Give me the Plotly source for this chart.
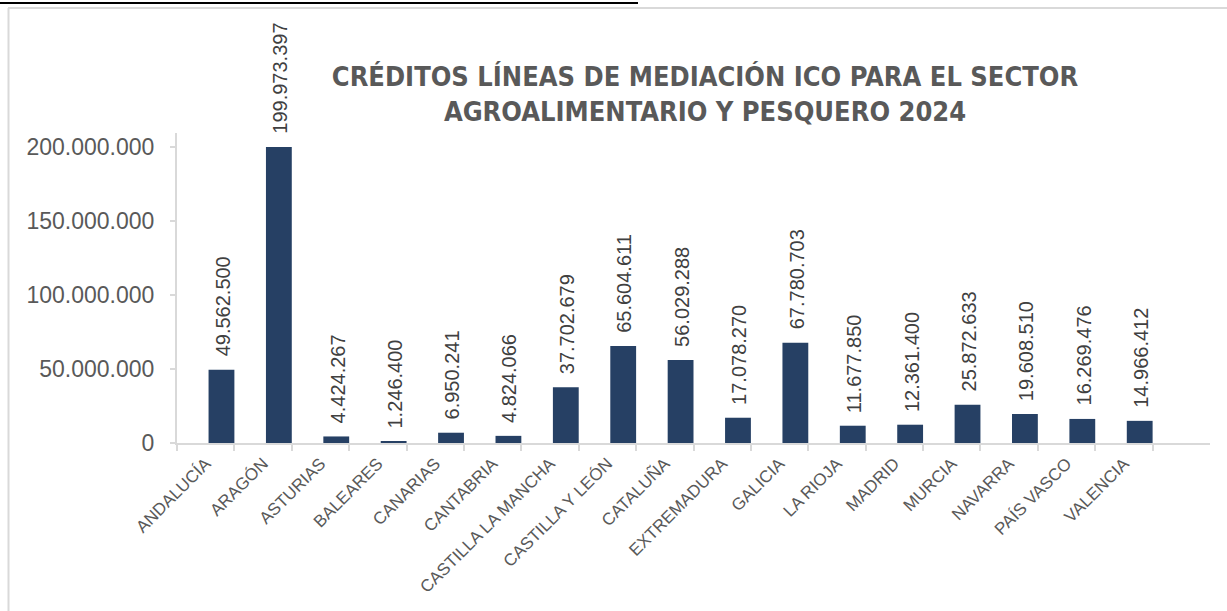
import plotly.graph_objects as go

# ---- data ----
regions = ["ANDALUCÍA", "ARAGÓN", "ASTURIAS", "BALEARES", "CANARIAS", "CANTABRIA",
           "CASTILLA LA MANCHA", "CASTILLA Y LEÓN", "CATALUÑA", "EXTREMADURA",
           "GALICIA", "LA RIOJA", "MADRID", "MURCIA", "NAVARRA", "PAÍS VASCO", "VALENCIA"]
credits = [49562500, 199973397, 4424267, 1246400, 6950241, 4824066,
           37702679, 65604611, 56029288, 17078270, 67780703, 11677850,
           12361400, 25872633, 19608510, 16269476, 14966412]
y_ticks = [0, 50000000, 100000000, 150000000, 200000000]
title_text = "CRÉDITOS LÍNEAS DE MEDIACIÓN ICO PARA EL SECTOR<br>AGROALIMENTARIO Y PESQUERO 2024"

W, H = 1227, 611
ML, MR, MT, MB = 177, 17, 133, 168
PW, PH = W - ML - MR, H - MT - MB


def px_x(p):
    return (p - ML) / PW


def px_y(p):
    return (H - MB - p) / PH


def fmt(v):
    return f"{v:,}".replace(",", ".")


fig = go.Figure()
fig.add_trace(go.Bar(
    x=regions, y=credits,
    width=0.45, offset=0.05,
    marker=dict(color="#264064", line=dict(width=0)),
    hoverinfo="x+y",
))

for r, v in zip(regions, credits):
    fig.add_annotation(
        x=r, y=v, xref="x", yref="y",
        text=fmt(v), showarrow=False, textangle=-90,
        xanchor="center", yanchor="bottom", xshift=17, yshift=11,
        font=dict(family="Liberation Sans, Arial, sans-serif", size=20, color="#404040"),
    )

# frame lines (cropped screenshot border)
fig.add_shape(type="line", xref="paper", yref="paper",
              x0=px_x(8), x1=px_x(1240), y0=px_y(8), y1=px_y(8),
              line=dict(color="#D9D9D9", width=2))
fig.add_shape(type="line", xref="paper", yref="paper",
              x0=px_x(8.5), x1=px_x(8.5), y0=px_y(8), y1=px_y(620),
              line=dict(color="#D9D9D9", width=2))
fig.add_shape(type="line", xref="paper", yref="paper",
              x0=px_x(0), x1=px_x(638), y0=px_y(3), y1=px_y(3),
              line=dict(color="#000000", width=2))

fig.update_layout(
    width=W, height=H,
    margin=dict(l=ML, r=MR, t=MT, b=MB, autoexpand=False),
    paper_bgcolor="white", plot_bgcolor="white",
    separators=",.",
    showlegend=False,
    title=dict(
        text=title_text, x=px_x(705), xref="paper", xanchor="center",
        y=1 - 86 / H, yref="container", yanchor="middle",
        font=dict(family="Liberation Sans Narrow, DejaVu Sans Condensed, Roboto, sans-serif",
                  size=27, color="#595959", weight="bold"),
    ),
    xaxis=dict(
        type="category", categoryorder="array", categoryarray=regions,
        range=[-0.5, len(regions) + 0.5],
        tickson="boundaries", ticks="outside", ticklen=6, tickcolor="#D9D9D9", tickwidth=1.5,
        showline=True, linecolor="#D9D9D9", linewidth=2,
        showgrid=False, zeroline=False,
        tickangle=-45, ticklabelstandoff=2,
        tickfont=dict(family="Liberation Sans, Arial, sans-serif", size=17, color="#595959"),
    ),
    yaxis=dict(
        range=[0, 209.5e6],
        tickvals=y_ticks, tickformat=",.0f",
        ticks="outside", ticklen=5, tickcolor="#D9D9D9", tickwidth=1.5,
        ticklabelstandoff=11,
        showline=True, linecolor="#D9D9D9", linewidth=2,
        showgrid=False, zeroline=False,
        tickfont=dict(family="Liberation Sans, Arial, sans-serif", size=23, color="#595959"),
    ),
)

fig.write_html("out.html", config={"displayModeBar": False},
               post_script="document.body.style.margin='0';")
